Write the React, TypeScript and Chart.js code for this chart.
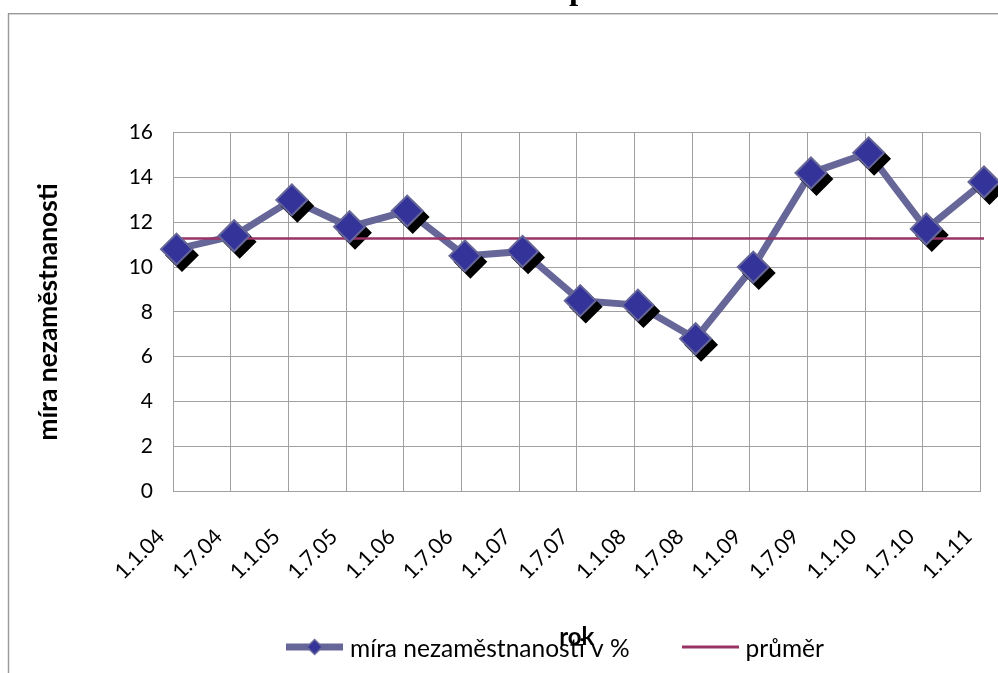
import React, { useEffect, useRef } from "react";
import { Chart, registerables } from "chart.js";

Chart.register(...registerables);

const categories = [
  "1.1.04", "1.7.04", "1.1.05", "1.7.05", "1.1.06", "1.7.06", "1.1.07", "1.7.07",
  "1.1.08", "1.7.08", "1.1.09", "1.7.09", "1.1.10", "1.7.10", "1.1.11",
];
const unemployment = [10.8, 11.4, 13.0, 11.8, 12.5, 10.5, 10.7, 8.5, 8.3, 6.8, 10.0, 14.2, 15.1, 11.7, 13.8];
const average = [11.27, 11.27, 11.27, 11.27, 11.27, 11.27, 11.27, 11.27, 11.27, 11.27, 11.27, 11.27, 11.27, 11.27, 11.27];
const yMin = 0;
const yMax = 16;
const yStep = 2;

const seriesLabel = "míra nezaměstnanosti v %";
const averageLabel = "průměr";
const xTitle = "rok";
const yTitle = "míra nezaměstnanosti";
const chartTitle = "Míra nezaměstnanosti a průměr";

const LINE_COLOR = "#666699";
const MARKER_FILL = "#333399";
const AVG_COLOR = "#993366";
const GRID_COLOR = "#a0a0a0";
const FONT = "Lato";

function makeSeriesSymbol(): HTMLCanvasElement {
  const c = document.createElement("canvas");
  c.width = 57;
  c.height = 22;
  const g = c.getContext("2d")!;
  const cy = 9;
  g.fillStyle = LINE_COLOR;
  g.fillRect(0, cy - 3.5, 57, 7);
  g.beginPath();
  g.moveTo(28.5 - 7.5, cy);
  g.lineTo(28.5, cy - 7.5);
  g.lineTo(28.5 + 7.5, cy);
  g.lineTo(28.5, cy + 7.5);
  g.closePath();
  g.fillStyle = MARKER_FILL;
  g.fill();
  g.strokeStyle = LINE_COLOR;
  g.lineWidth = 1.5;
  g.stroke();
  return c;
}

function makeAverageSymbol(): HTMLCanvasElement {
  const c = document.createElement("canvas");
  c.width = 57;
  c.height = 22;
  const g = c.getContext("2d")!;
  g.fillStyle = AVG_COLOR;
  g.fillRect(0, 9 - 1.5, 57, 3);
  return c;
}

const framePlugin = {
  id: "frameAndTitle",
  beforeDraw(chart: any) {
    const ctx = chart.ctx;
    ctx.save();
    ctx.fillStyle = "#ffffff";
    ctx.fillRect(0, 0, chart.width, chart.height);
    ctx.strokeStyle = "#9a9a9a";
    ctx.lineWidth = 1.4;
    ctx.strokeRect(8.5, 13.7, 3000, 3000);
    ctx.font = 'bold 33px "Liberation Serif"';
    ctx.fillStyle = "#000";
    ctx.textBaseline = "alphabetic";
    ctx.textAlign = "left";
    const prefix = chartTitle.slice(0, chartTitle.lastIndexOf("průměr"));
    const w = ctx.measureText(prefix).width;
    ctx.fillText(chartTitle, 569 - w, -1);
    ctx.restore();
  },
};

// Excel draws the series a few pixels right of the category gridlines; the
// marker shadow is an extra offset on top of that.
const SERIES_SHIFT_X = 3.5;

const shiftPlugin = {
  id: "seriesShift",
  beforeDatasetDraw(chart: any, args: any) {
    chart.ctx.save();
    if (args.index === 1) {
      chart.ctx.translate(SERIES_SHIFT_X + 5.5, 6);
    } else {
      chart.ctx.translate(SERIES_SHIFT_X, 0);
    }
  },
  afterDatasetDraw(chart: any) {
    chart.ctx.restore();
  },
};

export default function App() {
  const ref = useRef<HTMLCanvasElement | null>(null);

  useEffect(() => {
    if (!ref.current) return;
    const sym1 = makeSeriesSymbol();
    const sym2 = makeAverageSymbol();

    const chart = new Chart(ref.current, {
      type: "line",
      data: {
        labels: categories,
        datasets: [
          {
            label: seriesLabel,
            data: unemployment,
            borderColor: LINE_COLOR,
            borderWidth: 7,
            pointRadius: 0,
            tension: 0,
            clip: false,
            order: 4,
          },
          {
            label: "shadow",
            data: unemployment,
            showLine: false,
            pointStyle: "rectRot",
            pointRadius: 15.5,
            pointBackgroundColor: "#000",
            pointBorderColor: "#000",
            pointBorderWidth: 2,
            clip: false,
            order: 3,
          },
          {
            label: averageLabel,
            data: average,
            borderColor: AVG_COLOR,
            borderWidth: 2.5,
            pointRadius: 0,
            clip: false,
            order: 2,
          },
          {
            label: "markers",
            data: unemployment,
            showLine: false,
            pointStyle: "rectRot",
            pointRadius: 15.5,
            pointBackgroundColor: MARKER_FILL,
            pointBorderColor: LINE_COLOR,
            pointBorderWidth: 2,
            clip: false,
            order: 1,
          },
        ],
      },
      options: {
        animation: false,
        responsive: false,
        devicePixelRatio: 1,
        layout: { padding: { top: 132.7, left: 125.25, right: 8, bottom: 1.75 } },
        plugins: {
          title: { display: false },
          tooltip: { enabled: false },
          legend: {
            display: true,
            position: "bottom",
            align: "center",
            labels: {
              usePointStyle: true,
              pointStyleWidth: 46.5,
              boxHeight: 24.5,
              padding: 57.25,
              color: "#000",
              font: { family: FONT, size: 24.5 },
              generateLabels: () => [
                {
                  text: seriesLabel,
                  pointStyle: sym1,
                  fillStyle: "rgba(0,0,0,0)",
                  strokeStyle: "rgba(0,0,0,0)",
                  lineWidth: 0,
                  hidden: false,
                  datasetIndex: 0,
                } as any,
                {
                  text: averageLabel,
                  pointStyle: sym2,
                  fillStyle: "rgba(0,0,0,0)",
                  strokeStyle: "rgba(0,0,0,0)",
                  lineWidth: 0,
                  hidden: false,
                  datasetIndex: 2,
                } as any,
              ],
            },
          },
        },
        scales: {
          x: {
            type: "category",
            offset: false,
            grid: { color: GRID_COLOR, lineWidth: 1, drawTicks: false, offset: false },
            border: { color: GRID_COLOR, width: 1 },
            ticks: {
              autoSkip: false,
              minRotation: 45,
              maxRotation: 45,
              padding: 33,
              labelOffset: -12,
              color: "#000",
              font: { family: FONT, size: 21.5 },
            },
            title: {
              display: true,
              text: xTitle,
              color: "#000",
              font: { family: FONT, size: 24, weight: "bold" },
              padding: { top: 0, bottom: -71.9 },
            },
            afterFit: (s: any) => {
              s.height = 88.5;
              s.paddingRight = 0;
              s.paddingLeft = 0;
            },
          },
          y: {
            min: yMin,
            max: yMax,
            grid: { color: GRID_COLOR, lineWidth: 1, drawTicks: false },
            border: { color: GRID_COLOR, width: 1 },
            ticks: {
              stepSize: yStep,
              padding: 20,
              color: "#000",
              font: { family: FONT, size: 21 },
            },
            title: {
              display: true,
              text: yTitle,
              color: "#000",
              font: { family: FONT, size: 26.4, weight: "bold" },
              padding: { top: -92.3, bottom: 0 },
            },
            afterFit: (s: any) => {
              s.width = 47.75;
            },
          },
        },
      } as any,
      plugins: [framePlugin, shiftPlugin],
    });
    return () => chart.destroy();
  }, []);

  return (
    <div style={{ position: "absolute", left: 0, top: 0, width: 998, height: 673 }}>
      <canvas ref={ref} width={998} height={673} style={{ display: "block" }} />
    </div>
  );
}
